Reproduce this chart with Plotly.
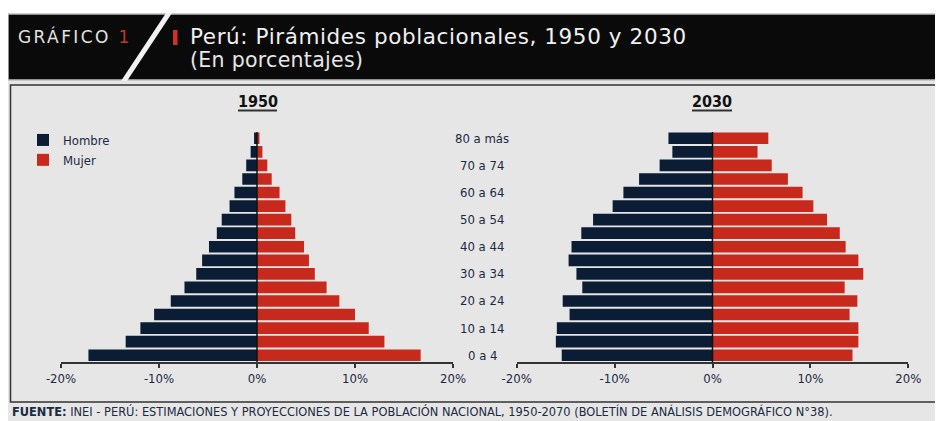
import plotly.graph_objects as go

# The page body adds an 8px margin, so the figure is 8px smaller in each direction
# and all reference pixel positions are shifted by that offset.
OFF = 8
W, H = 943 - OFF, 421 - OFF

age_groups = ["0 a 4", "5 a 9", "10 a 14", "15 a 19", "20 a 24", "25 a 29", "30 a 34",
              "35 a 39", "40 a 44", "45 a 49", "50 a 54", "55 a 59", "60 a 64",
              "65 a 69", "70 a 74", "75 a 79", "80 a más"]
shown_labels = ["0 a 4", "10 a 14", "20 a 24", "30 a 34", "40 a 44", "50 a 54",
                "60 a 64", "70 a 74", "80 a más"]

hombre_1950 = [17.2, 13.4, 11.9, 10.5, 8.8, 7.4, 6.2, 5.6, 4.9, 4.1, 3.6, 2.8, 2.3, 1.5, 1.1, 0.65, 0.3]
mujer_1950 = [16.7, 13.0, 11.4, 10.0, 8.4, 7.1, 5.9, 5.3, 4.8, 3.9, 3.5, 2.9, 2.3, 1.5, 1.05, 0.55, 0.25]
hombre_2030 = [15.4, 16.0, 15.9, 14.6, 15.3, 13.3, 13.9, 14.7, 14.4, 13.4, 12.2, 10.2, 9.1, 7.5, 5.4, 4.1, 4.5]
mujer_2030 = [14.3, 14.9, 14.9, 14.0, 14.8, 13.5, 15.4, 14.9, 13.6, 13.0, 11.7, 10.3, 9.2, 7.7, 6.05, 4.6, 5.7]

x_ticks = [-20, -10, 0, 10, 20]
x_ticktext = ["-20%", "-10%", "0%", "10%", "20%"]

NAVY = "#0b1d34"
RED = "#c8291d"
TXT = "#1b2a44"
COND = "DejaVu Sans Condensed, Liberation Sans Narrow, sans-serif"
WIDE = "DejaVu Sans, Verdana, sans-serif"


def px(x):
    return (x - OFF) / W


def py(y):
    return 1 - (y - OFF) / H


fig = go.Figure()
for xa, ya, men, women, show in [("x", "y", hombre_1950, mujer_1950, True),
                                  ("x2", "y2", hombre_2030, mujer_2030, False)]:
    fig.add_trace(go.Bar(y=age_groups, x=[-v for v in men], orientation="h", name="Hombre",
                         marker=dict(color=NAVY, line=dict(width=0)), xaxis=xa, yaxis=ya,
                         showlegend=show, legendgroup="h"))
    fig.add_trace(go.Bar(y=age_groups, x=women, orientation="h", name="Mujer",
                         marker=dict(color=RED, line=dict(width=0)), xaxis=xa, yaxis=ya,
                         showlegend=show, legendgroup="m"))

xcommon = dict(range=[-20, 20], tickvals=x_ticks, ticktext=x_ticktext, showgrid=False,
               zeroline=False, showline=True, linecolor="#333333", linewidth=1.5,
               ticks="outside", ticklen=4, tickwidth=1.5, tickcolor="#333333",
               tickfont=dict(family=COND, size=13, color=TXT), fixedrange=True,
               automargin=False)
ydom = [py(362), py(131.5)]
ycommon = dict(range=[-0.5, 16.5], categoryorder="array", categoryarray=age_groups,
               showticklabels=False, showgrid=False, zeroline=False, showline=False,
               ticks="", domain=ydom, fixedrange=True, automargin=False)

shapes = [
    # gray background under header
    dict(type="rect", xref="paper", yref="paper", x0=0, x1=1, y0=0, y1=py(80),
         fillcolor="#e6e6e6", line=dict(width=0), layer="below"),
    # header black bar
    dict(type="rect", xref="paper", yref="paper", x0=px(8), x1=px(946), y0=py(80), y1=py(14),
         fillcolor="#0a0a0a", line=dict(color="#bdbdbd", width=1.5), layer="below"),
    # white diagonal stripe
    dict(type="path", xref="paper", yref="paper",
         path=f"M {px(166)},{py(13)} L {px(172)},{py(13)} L {px(127)},{py(81)} L {px(121)},{py(81)} Z",
         fillcolor="#f2f2f2", line=dict(width=0), layer="below"),
    # red marker before title
    dict(type="rect", xref="paper", yref="paper", x0=px(173), x1=px(177.5), y0=py(45), y1=py(30),
         fillcolor="#d0302a", line=dict(width=0), layer="below"),
    # panel border
    dict(type="rect", xref="paper", yref="paper", x0=px(10.5), x1=px(950), y0=py(402), y1=py(85),
         fillcolor="#e6e6e6", line=dict(color="#333333", width=1.5), layer="below"),
    # title underlines
    dict(type="line", xref="paper", yref="paper", x0=px(238), x1=px(277), y0=py(110.5), y1=py(110.5),
         line=dict(color="#333333", width=2)),
    dict(type="line", xref="paper", yref="paper", x0=px(692), x1=px(732), y0=py(110.5), y1=py(110.5),
         line=dict(color="#333333", width=2)),
]
# center lines at 0%
for xr in ["x", "x2"]:
    shapes.append(dict(type="line", xref=xr, yref="paper", x0=0, x1=0, y0=py(362), y1=py(132),
                       line=dict(color="#111111", width=1.5), layer="above"))

annotations = [
    dict(text="<span style='letter-spacing:2.4px'>GRÁFICO <span style='color:#c0392b'>1</span></span>",
         x=px(16), y=py(37), xref="paper", yref="paper",
         xanchor="left", yanchor="middle", showarrow=False,
         font=dict(family=WIDE, size=17, color="#e3e3e3")),
    dict(text="<span style='letter-spacing:0.6px'>Perú: Pirámides poblacionales, 1950 y 2030</span>",
         x=px(188), y=py(37), xref="paper", yref="paper",
         xanchor="left", yanchor="middle", showarrow=False,
         font=dict(family=WIDE, size=21.5, color="#f0f0f0")),
    dict(text="<span style='letter-spacing:0.3px'>(En porcentajes)</span>",
         x=px(188), y=py(60), xref="paper", yref="paper",
         xanchor="left", yanchor="middle", showarrow=False,
         font=dict(family=WIDE, size=20.5, color="#e6e6e6")),
    dict(text="<b>1950</b>", x=px(258), y=py(102), xref="paper", yref="paper",
         xanchor="center", yanchor="middle", showarrow=False,
         font=dict(family=COND, size=16, color="#111111")),
    dict(text="<b>2030</b>", x=px(712), y=py(102), xref="paper", yref="paper",
         xanchor="center", yanchor="middle", showarrow=False,
         font=dict(family=COND, size=16, color="#111111")),
    dict(text="<b>FUENTE:</b> INEI - PERÚ: ESTIMACIONES Y PROYECCIONES DE LA POBLACIÓN NACIONAL, 1950-2070 "
              "(BOLETÍN DE ANÁLISIS DEMOGRÁFICO N°38).",
         x=px(10), y=py(411), xref="paper", yref="paper", xanchor="left", yanchor="middle",
         showarrow=False, font=dict(family=COND, size=12.7, color=TXT)),
]
for lab in shown_labels:
    annotations.append(dict(text=lab, x=px(482), y=lab, xref="paper", yref="y2",
                            xanchor="center", yanchor="middle", showarrow=False,
                            font=dict(family=COND, size=13, color=TXT)))

fig.update_layout(
    width=W, height=H, margin=dict(l=0, r=0, t=0, b=0, autoexpand=False),
    paper_bgcolor="white", plot_bgcolor="rgba(0,0,0,0)",
    barmode="relative", bargap=0.14,
    xaxis=dict(domain=[px(61), px(453)], anchor="y", **xcommon),
    xaxis2=dict(domain=[px(516.7), px(908.3)], anchor="y2", **xcommon),
    yaxis=dict(anchor="x", **ycommon),
    yaxis2=dict(anchor="x2", **ycommon),
    legend=dict(x=px(23), y=py(125), xanchor="left", yanchor="top", bgcolor="rgba(0,0,0,0)",
                font=dict(family=COND, size=13, color=TXT), traceorder="normal",
                itemclick=False, itemdoubleclick=False, tracegroupgap=4),
    shapes=shapes, annotations=annotations,
)

fig.write_html("out.html")
